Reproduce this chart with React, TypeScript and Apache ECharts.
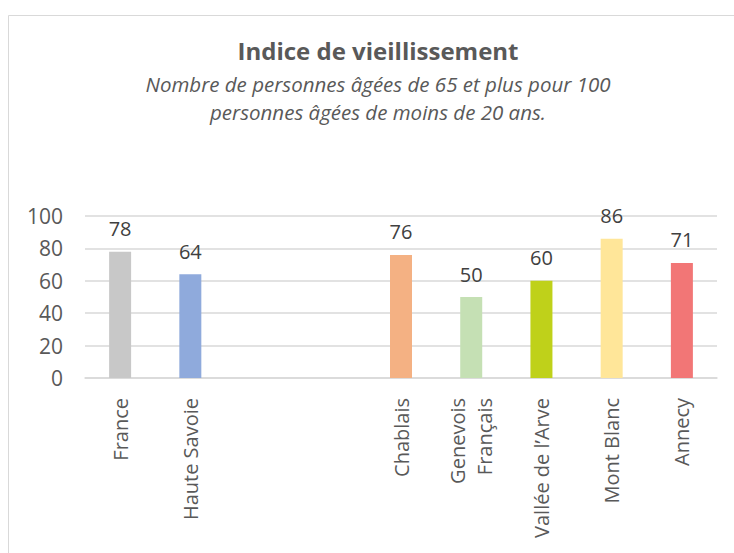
import React, { useEffect, useRef } from "react";
import * as echarts from "echarts";

const categories = [
  "France",
  "Haute Savoie",
  "",
  " ",
  "Chablais",
  "Genevois\nFrançais",
  "Vallée de l’Arve",
  "Mont Blanc",
  "Annecy",
];
const values: (number | null)[] = [78, 64, null, null, 76, 50, 60, 86, 71];
const barColors = [
  "#c8c8c8",
  "#8faadc",
  "#ffffff",
  "#ffffff",
  "#f4b183",
  "#c5e0b4",
  "#bfd11a",
  "#ffe699",
  "#f27676",
];
const yTicks = [0, 20, 40, 60, 80, 100];
const titleText = "Indice de vieillissement";
const subtitleLines = [
  "Nombre de personnes âgées de 65 et plus pour 100",
  "personnes âgées de moins de 20 ans.",
];

export default function App() {
  const ref = useRef<HTMLDivElement>(null);
  useEffect(() => {
    if (!ref.current) return;
    const chart = echarts.init(ref.current, null, { renderer: "svg" });
    const font = "'Open Sans', 'Noto Sans', sans-serif";
    chart.setOption({
      animation: false,
      backgroundColor: "#ffffff",
      graphic: [
        {
          type: "rect",
          shape: { x: 8.5, y: 15.5, width: 740, height: 560 },
          style: { fill: "none", stroke: "#d9d9d9", lineWidth: 1 },
        },
        {
          type: "text",
          x: 378,
          y: 50,
          style: {
            text: titleText,
            font: `bold 24px ${font}`,
            fill: "#595959",
            textAlign: "center",
            textVerticalAlign: "middle",
          },
        },
        ...subtitleLines.map((t, i) => ({
          type: "text",
          x: 378,
          y: 84 + i * 28,
          style: {
            text: t,
            font: `italic 20.5px ${font}`,
            fill: "#595959",
            textAlign: "center",
            textVerticalAlign: "middle",
          },
        })),
      ],
      grid: { left: 85, right: 17, top: 216, bottom: 175, containLabel: false },
      xAxis: {
        type: "category",
        data: categories,
        axisLine: { show: true, lineStyle: { color: "#d9d9d9", width: 1.5 } },
        axisTick: { show: false },
        axisLabel: {
          rotate: 90,
          interval: 0,
          margin: 20,
          fontSize: 20,
          fontFamily: font,
          color: "#595959",
          lineHeight: 27,
        },
      },
      yAxis: {
        type: "value",
        min: yTicks[0],
        max: yTicks[yTicks.length - 1],
        interval: 20,
        axisLine: { show: false },
        axisTick: { show: false },
        splitLine: { lineStyle: { color: "#d9d9d9", width: 1.5 } },
        axisLabel: {
          margin: 22,
          fontSize: 21,
          fontFamily: font,
          color: "#595959",
        },
      },
      series: [
        {
          type: "bar",
          barWidth: 22,
          data: values.map((v, i) => ({
            value: v === null ? "-" : v,
            itemStyle: { color: barColors[i] },
          })),
          label: {
            show: true,
            position: "top",
            distance: 13,
            fontSize: 20,
            fontFamily: font,
            color: "#404040",
          },
        },
      ],
    });
    return () => chart.dispose();
  }, []);
  return (
    <div
      ref={ref}
      style={{ position: "fixed", left: 0, top: 0, width: 734, height: 553 }}
    />
  );
}
